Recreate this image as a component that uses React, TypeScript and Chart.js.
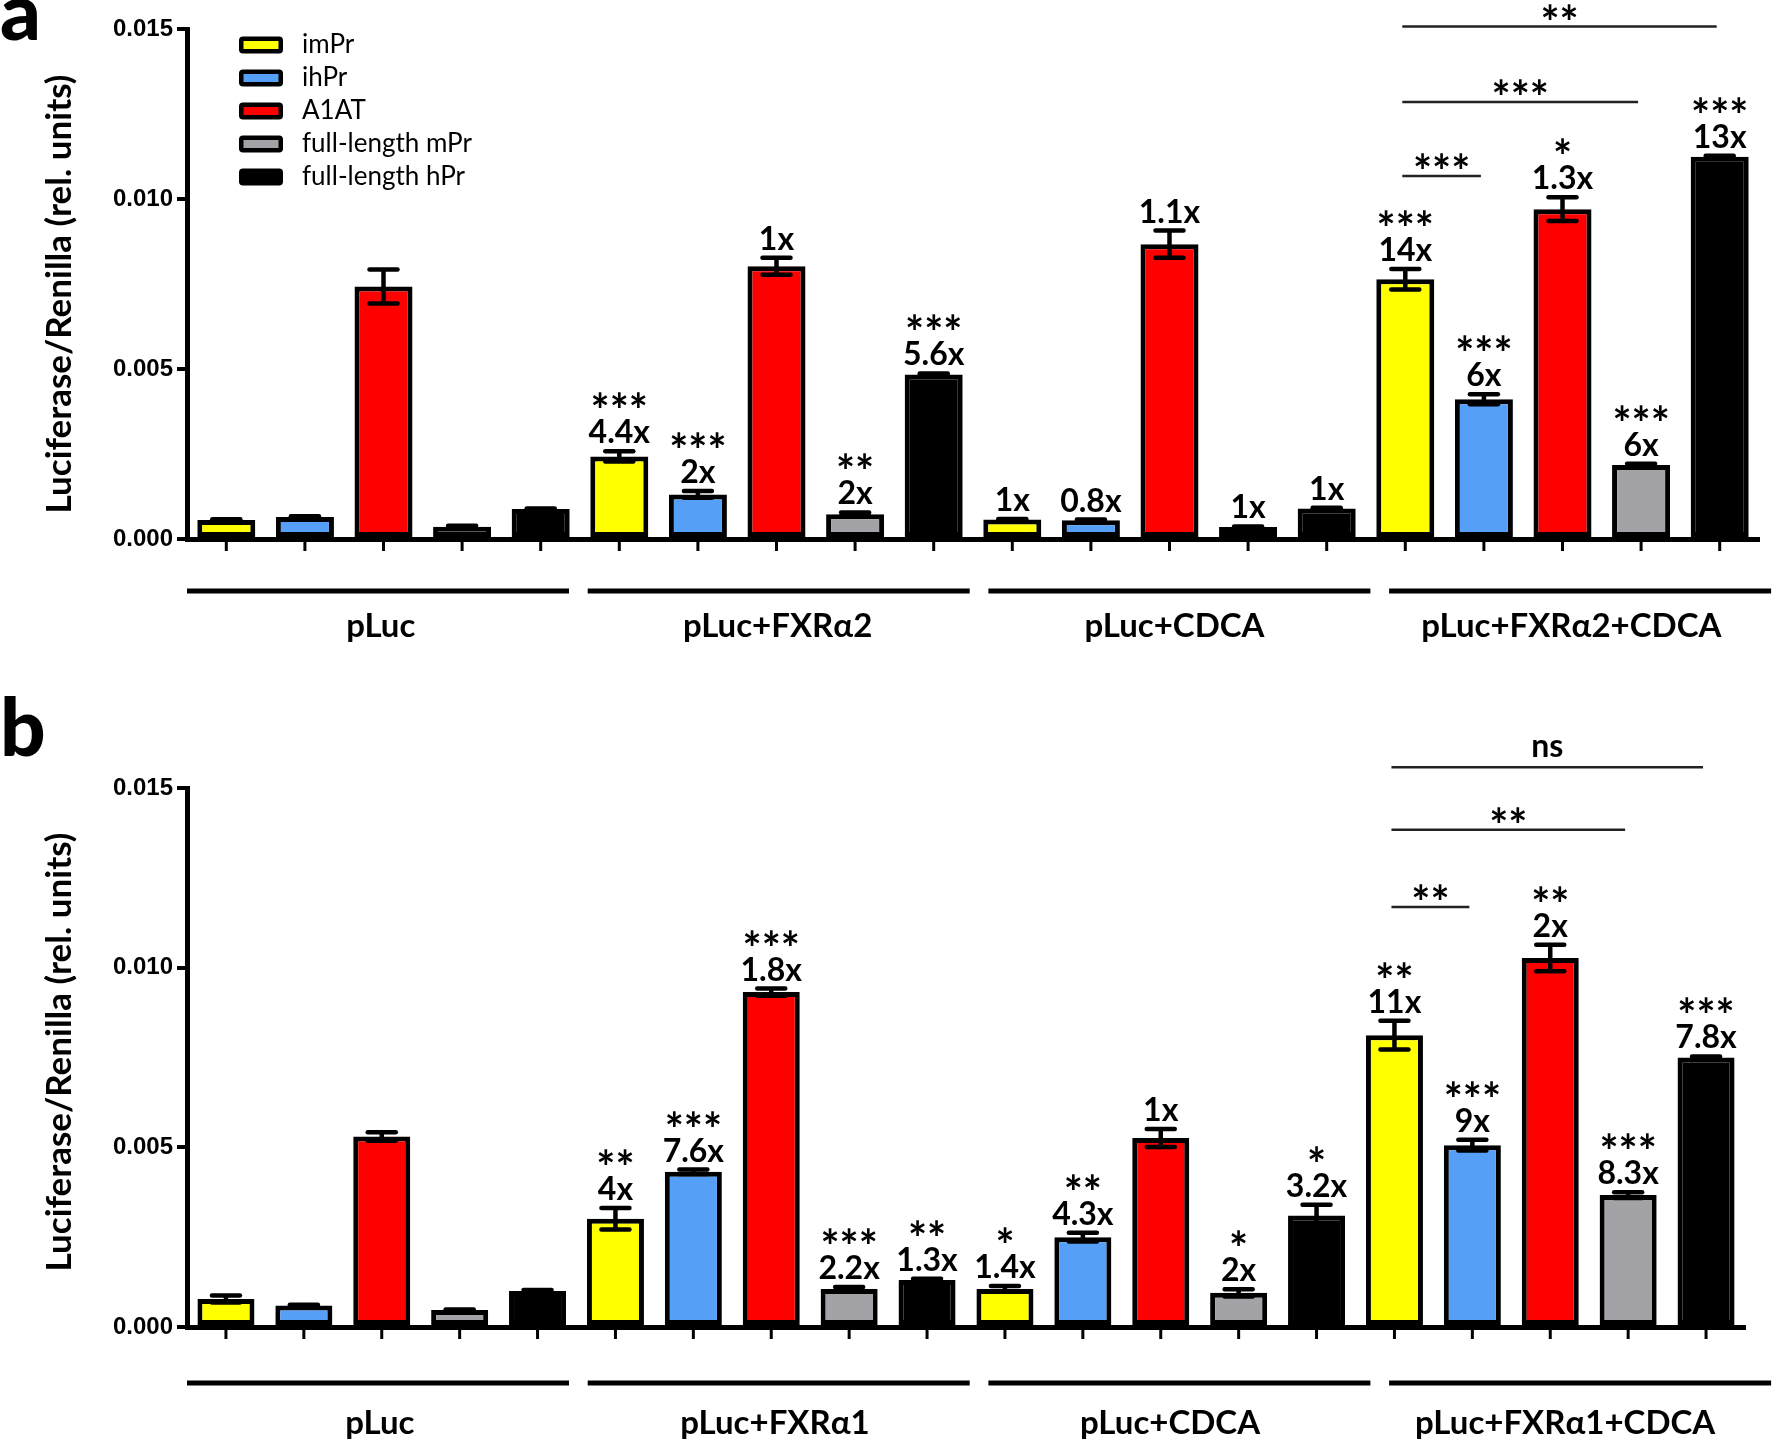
import React, { useEffect, useRef } from "react";
import { Chart, registerables } from "chart.js";

Chart.register(...registerables);

const SERIES = ["imPr", "ihPr", "A1AT", "full-length mPr", "full-length hPr"];
const COLORS = ["#FFFF00", "#559FF7", "#FF0000", "#A3A3A7", "#000000"];
const Y_TICKS = [0, 0.005, 0.01, 0.015];
const Y_TITLE = "Luciferase/Renilla (rel. units)";

// ---------------- panel a ----------------
const A_GROUPS = ["pLuc", "pLuc+FXRα2", "pLuc+CDCA", "pLuc+FXRα2+CDCA"];
const A_IMPR = [0.00056, 0.00243, 0.00057, 0.00764];
const A_IHPR = [0.00065, 0.00131, 0.00055, 0.00411];
const A_A1AT = [0.00743, 0.00802, 0.00867, 0.0097];
const A_MPR = [0.00036, 0.00073, 0.00035, 0.00218];
const A_HPR = [0.00088, 0.00484, 0.0009, 0.01124];
const A_IMPR_ERR = [0.00002, 0.00015, 0.00002, 0.0003];
const A_IHPR_ERR = [0.00002, 0.0001, 0.00002, 0.00015];
const A_A1AT_ERR = [0.0005, 0.00025, 0.0004, 0.00035];
const A_MPR_ERR = [0.00003, 0.00005, 0.00002, 0.00003];
const A_HPR_ERR = [0.00002, 0.00003, 0.00002, 0.00003];
const A_STARS = [
  ["", "***", "", "***"],
  ["", "***", "", "***"],
  ["", "", "", "*"],
  ["", "**", "", "***"],
  ["", "***", "", "***"],
];
const A_FOLD = [
  ["", "4.4x", "1x", "14x"],
  ["", "2x", "0.8x", "6x"],
  ["", "1x", "1.1x", "1.3x"],
  ["", "2x", "1x", "6x"],
  ["", "5.6x", "1x", "13x"],
];
// [from series, to series, level, label] within the last group
const A_BRACKETS: [number, number, number, string][] = [
  [0, 1, 0.01068, "***"],
  [0, 3, 0.01285, "***"],
  [0, 4, 0.01507, "**"],
];

// ---------------- panel b ----------------
const B_GROUPS = ["pLuc", "pLuc+FXRα1", "pLuc+CDCA", "pLuc+FXRα1+CDCA"];
const B_IMPR = [0.00078, 0.00301, 0.00106, 0.00812];
const B_IHPR = [0.0006, 0.00432, 0.0025, 0.00506];
const B_A1AT = [0.0053, 0.00932, 0.00526, 0.01027];
const B_MPR = [0.00047, 0.00106, 0.00095, 0.00367];
const B_HPR = [0.001, 0.00131, 0.0031, 0.0075];
const B_IMPR_ERR = [0.0001, 0.0003, 0.00008, 0.0004];
const B_IHPR_ERR = [0.00002, 0.00006, 0.00012, 0.00015];
const B_A1AT_ERR = [0.00012, 0.0001, 0.00025, 0.00037];
const B_MPR_ERR = [0.00002, 0.00005, 0.0001, 0.00008];
const B_HPR_ERR = [0.00003, 0.00003, 0.0003, 0.00003];
const B_STARS = [
  ["", "**", "*", "**"],
  ["", "***", "**", "***"],
  ["", "***", "", "**"],
  ["", "***", "*", "***"],
  ["", "**", "*", "***"],
];
const B_FOLD = [
  ["", "4x", "1.4x", "11x"],
  ["", "7.6x", "4.3x", "9x"],
  ["", "1.8x", "1x", "2x"],
  ["", "2.2x", "2x", "8.3x"],
  ["", "1.3x", "3.2x", "7.8x"],
];
const B_BRACKETS: [number, number, number, string][] = [
  [0, 1, 0.01169, "**"],
  [0, 3, 0.01384, "**"],
  [0, 4, 0.01558, "ns"],
];

const PANEL_A = {
  letter: "a",
  letterBaseline: 40,
  height: 680,
  padTop: 29,
  padRight: 15,
  xAxisHeight: 141,
  barPct: 0.738,
  titleY: 294,
  lineDy: 52,
  labelDy: 87,
  legend: true,
  groups: A_GROUPS,
  values: [A_IMPR, A_IHPR, A_A1AT, A_MPR, A_HPR],
  errors: [A_IMPR_ERR, A_IHPR_ERR, A_A1AT_ERR, A_MPR_ERR, A_HPR_ERR],
  stars: A_STARS,
  fold: A_FOLD,
  brackets: A_BRACKETS,
};

const PANEL_B = {
  letter: "b",
  letterBaseline: 76,
  height: 768,
  padTop: 108,
  padRight: 29,
  xAxisHeight: 121,
  barPct: 0.732,
  titleY: 372,
  lineDy: 56,
  labelDy: 96,
  legend: false,
  groups: B_GROUPS,
  values: [B_IMPR, B_IHPR, B_A1AT, B_MPR, B_HPR],
  errors: [B_IMPR_ERR, B_IHPR_ERR, B_A1AT_ERR, B_MPR_ERR, B_HPR_ERR],
  stars: B_STARS,
  fold: B_FOLD,
  brackets: B_BRACKETS,
};

const SANS = "Lato, 'Open Sans', 'DejaVu Sans', sans-serif";

function centerText(ctx: CanvasRenderingContext2D, text: string, x: number, cy: number) {
  ctx.textBaseline = "alphabetic";
  ctx.textAlign = "center";
  const m = ctx.measureText(text);
  const asc = m.actualBoundingBoxAscent;
  const desc = m.actualBoundingBoxDescent;
  ctx.fillText(text, x, cy + (asc - desc) / 2);
}

function line(ctx: CanvasRenderingContext2D, x1: number, y1: number, x2: number, y2: number) {
  ctx.beginPath();
  ctx.moveTo(x1, y1);
  ctx.lineTo(x2, y2);
  ctx.stroke();
}

function makePlugin(cfg: any) {
  return {
    id: "panelDecor",
    afterDraw(chart: any) {
      const ctx: CanvasRenderingContext2D = chart.ctx;
      const ys = chart.scales.y;
      const xs = chart.scales.x;
      const area = chart.chartArea;
      ctx.save();
      ctx.fillStyle = "#000";
      ctx.strokeStyle = "#000";

      // error bars, tick marks, annotations
      chart.data.datasets.forEach((ds: any, di: number) => {
        const meta = chart.getDatasetMeta(di);
        meta.data.forEach((bar: any, gi: number) => {
          const v = ds.data[gi];
          const e = cfg.errors[di][gi];
          const yTop = ys.getPixelForValue(v + e);
          const yBot = ys.getPixelForValue(v - e);
          ctx.lineWidth = 4.5;
          ctx.lineCap = "butt";
          line(ctx, bar.x, yTop, bar.x, yBot);
          ctx.lineCap = "round";
          line(ctx, bar.x - 14, yTop, bar.x + 14, yTop);
          line(ctx, bar.x - 14, yBot, bar.x + 14, yBot);
          // tick mark under the bar
          ctx.lineCap = "butt";
          ctx.lineWidth = 3;
          line(ctx, bar.x, area.bottom + 2, bar.x, area.bottom + 12);

          const foldCy = yTop - 20;
          ctx.font = `bold 32px ${SANS}`;
          const f = cfg.fold[di][gi];
          if (f) centerText(ctx, f, bar.x, foldCy);
          const s = cfg.stars[di][gi];
          ctx.font = `bold 45px ${SANS}`;
          if (s) centerText(ctx, s, bar.x, foldCy - 31);
        });
      });

      // comparison brackets in last group
      cfg.brackets.forEach((b: [number, number, number, string]) => {
        const [from, to, level, label] = b;
        const x1 = chart.getDatasetMeta(from).data[3].x - 3;
        const x2 = chart.getDatasetMeta(to).data[3].x - 3;
        const y = ys.getPixelForValue(level);
        ctx.lineWidth = 2.5;
        ctx.lineCap = "butt";
        ctx.strokeStyle = "#222";
        line(ctx, x1, y, x2, y);
        if (label === "ns") {
          ctx.font = `bold 32px ${SANS}`;
          centerText(ctx, label, (x1 + x2) / 2, y - 19);
        } else {
          ctx.font = `bold 45px ${SANS}`;
          centerText(ctx, label, (x1 + x2) / 2, y - 15);
        }
      });
      ctx.strokeStyle = "#000";

      // group lines and labels
      cfg.groups.forEach((g: string, k: number) => {
        const lx1 = area.left + k * 400.7;
        const lx2 = lx1 + 382;
        ctx.lineWidth = 5;
        line(ctx, lx1, area.bottom + cfg.lineDy, lx2, area.bottom + cfg.lineDy);
        const gc = xs.getPixelForValue(k);
        const cx = (gc + (lx1 + lx2) / 2) / 2;
        ctx.font = `bold 33px ${SANS}`;
        ctx.textAlign = "center";
        ctx.textBaseline = "middle";
        ctx.fillText(g, cx, area.bottom + cfg.labelDy);
      });

      // y-axis title
      ctx.save();
      ctx.translate(60, cfg.titleY);
      ctx.rotate(-Math.PI / 2);
      ctx.font = `bold 35px ${SANS}`;
      ctx.textAlign = "center";
      ctx.textBaseline = "middle";
      ctx.fillText(Y_TITLE, 0, 0);
      ctx.restore();

      // panel letter
      ctx.font = `900 80px ${SANS}`;
      ctx.textAlign = "left";
      ctx.textBaseline = "alphabetic";
      ctx.fillText(cfg.letter, 0, cfg.letterBaseline);

      // legend
      if (cfg.legend) {
        SERIES.forEach((name, i) => {
          const cy = 45 + i * 33;
          const bx = 239, bw = 44, bh = 17;
          ctx.fillStyle = "#000";
          ctx.beginPath();
          (ctx as any).roundRect(bx, cy - bh / 2, bw, bh, 4);
          ctx.fill();
          ctx.fillStyle = COLORS[i];
          ctx.fillRect(bx + 4.5, cy - bh / 2 + 4.5, bw - 9, bh - 9);
          ctx.fillStyle = "#000";
          ctx.font = `26px ${SANS}`;
          ctx.textAlign = "left";
          ctx.textBaseline = "middle";
          ctx.fillText(name, 302, cy);
        });
      }
      ctx.restore();
    },
  };
}

function Panel({ cfg, top }: { cfg: any; top: number }) {
  const ref = useRef<HTMLCanvasElement>(null);
  useEffect(() => {
    if (!ref.current) return;
    const chart = new Chart(ref.current, {
      type: "bar",
      data: {
        labels: cfg.groups,
        datasets: SERIES.map((name, i) => ({
          label: name,
          data: cfg.values[i],
          backgroundColor: COLORS[i],
          borderColor: "#000",
          borderWidth: 5,
          borderSkipped: false,
          barPercentage: cfg.barPct,
          categoryPercentage: 1,
        })),
      },
      options: {
        responsive: false,
        animation: false,
        devicePixelRatio: 1,
        layout: { padding: { left: 0, right: cfg.padRight, top: cfg.padTop, bottom: 0 } },
        plugins: { legend: { display: false }, tooltip: { enabled: false } },
        scales: {
          x: {
            grid: { display: false },
            border: { display: true, width: 5, color: "#000" },
            ticks: { display: false },
            afterFit: (s: any) => {
              s.height = cfg.xAxisHeight;
            },
          },
          y: {
            min: 0,
            max: 0.015,
            afterBuildTicks: (s: any) => {
              s.ticks = Y_TICKS.map((v) => ({ value: v }));
            },
            ticks: {
              callback: (v: any) => Number(v).toFixed(3),
              font: { family: "'Liberation Sans', Arial, sans-serif", weight: "bold", size: 24 },
              color: "#000",
              padding: 4,
            },
            grid: { drawOnChartArea: false, drawTicks: true, tickLength: 10, lineWidth: 4, color: "#000" },
            border: { display: true, width: 5, color: "#000" },
            afterFit: (s: any) => {
              s.width = 187;
            },
          },
        },
      } as any,
      plugins: [makePlugin(cfg)],
    });
    return () => chart.destroy();
  }, []);
  return (
    <canvas
      ref={ref}
      width={1774}
      height={cfg.height}
      style={{ position: "absolute", left: 0, top, width: 1774, height: cfg.height }}
    />
  );
}

export default function App() {
  useEffect(() => {
    document.body.style.margin = "0";
  }, []);
  return (
    <div style={{ position: "relative", width: 1774, height: 1448, background: "#fff" }}>
      <Panel cfg={PANEL_A} top={0} />
      <Panel cfg={PANEL_B} top={680} />
    </div>
  );
}
